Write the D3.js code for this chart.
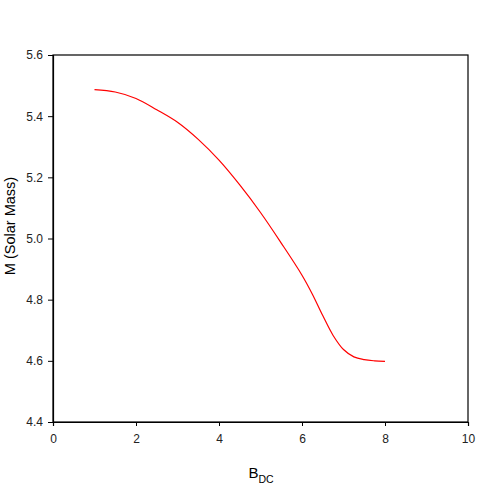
<!DOCTYPE html>
<html>
<head>
<meta charset="utf-8">
<script src="https://cdn.jsdelivr.net/npm/d3@7"></script>
<style>
html,body{margin:0;padding:0;background:#fff;}
svg{display:block;font-family:"Liberation Sans",Arial,sans-serif;}
</style>
</head>
<body>
<svg id="chart" width="491" height="491"></svg>
<script>
const bdc = [1, 1.5, 2, 2.5, 3, 3.5, 4, 4.5, 5, 5.5, 6, 6.25, 6.5, 6.75, 7, 7.25, 7.5, 7.75, 8];
const mass = [5.487, 5.479, 5.458, 5.421, 5.380, 5.324, 5.256, 5.175, 5.085, 4.985, 4.880, 4.818, 4.748, 4.683, 4.637, 4.613, 4.604, 4.600, 4.598];
const xTicks = [0, 2, 4, 6, 8, 10];
const yTicks = [4.4, 4.6, 4.8, 5.0, 5.2, 5.4, 5.6];

(function () {
const svg = d3.select("#chart");
const mLeft = 53, mRight = 468, mTop = 55, mBottom = 422;

const x = d3.scaleLinear().domain([0, 10]).range([mLeft, mRight]);
const y = d3.scaleLinear().domain([4.4, 5.6]).range([mBottom, mTop]);

// frame
svg.append("rect").attr("x", mLeft).attr("y", mTop)
  .attr("width", mRight - mLeft).attr("height", mBottom - mTop)
  .attr("fill", "none").attr("stroke", "#000").attr("stroke-width", 1.2);

const xAxis = svg.append("g").attr("transform", `translate(0,${mBottom})`)
  .call(d3.axisBottom(x).tickValues(xTicks).tickFormat(d3.format("d")).tickSizeOuter(0).tickSize(4).tickPadding(8));
const yAxis = svg.append("g").attr("transform", `translate(${mLeft},0)`)
  .call(d3.axisLeft(y).tickValues(yTicks).tickFormat(d3.format(".1f")).tickSizeOuter(0).tickSize(5).tickPadding(5));
[xAxis, yAxis].forEach(g => {
  g.select(".domain").attr("stroke", "#000").attr("stroke-width", 1.2);
  g.selectAll(".tick line").attr("stroke", "#000").attr("stroke-width", 1);
  g.selectAll(".tick text").attr("fill", "#222").style("font-size", "12px")
    .style("font-family", "'Liberation Sans', Arial, sans-serif");
});

const line = d3.line().x((d, i) => x(bdc[i])).y(d => y(d)).curve(d3.curveCatmullRom.alpha(0.5));
svg.append("path").datum(mass).attr("d", line)
  .attr("fill", "none").attr("stroke", "#ff0000").attr("stroke-width", 1.2);

// y label
svg.append("text").attr("transform", "translate(15,226) rotate(-90)")
  .attr("text-anchor", "middle").style("font-size", "14.5px").attr("fill", "#000")
  .text("M (Solar Mass)");

// x label
const xl = svg.append("text").attr("x", 261).attr("y", 478).attr("text-anchor", "middle")
  .style("font-size", "15px").attr("fill", "#000");
xl.append("tspan").text("B");
xl.append("tspan").attr("dy", 5).style("font-size", "10.5px").text("DC");
})();
</script>
</body>
</html>
